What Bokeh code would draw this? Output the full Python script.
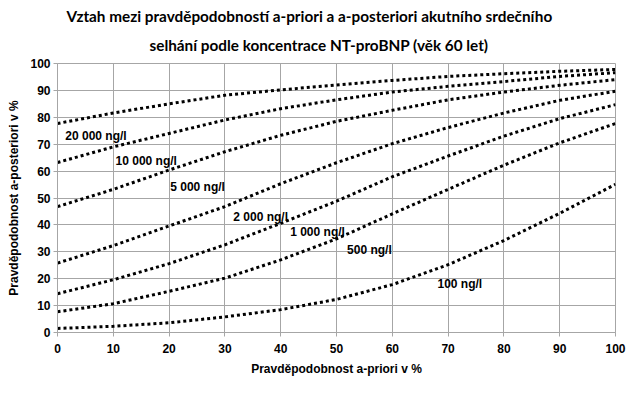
from bokeh.plotting import figure
from bokeh.models import Label, ColumnDataSource, Title
from bokeh.embed import file_html
from bokeh.resources import INLINE

x_prior = [0, 10, 20, 30, 40, 50, 60, 70, 80, 90, 100]
post_20000 = [77.7, 81.6, 85.0, 88.2, 90.2, 92.0, 93.7, 95.2, 96.2, 97.1, 97.8]
post_10000 = [63.2, 69.0, 74.0, 79.0, 83.2, 86.5, 89.4, 91.5, 93.3, 95.2, 96.6]
post_5000 = [46.8, 53.2, 60.4, 67.2, 73.3, 78.5, 82.6, 86.5, 89.4, 91.9, 94.0]
post_2000 = [25.8, 32.3, 39.6, 46.8, 55.3, 63.1, 70.2, 76.2, 81.6, 86.3, 89.7]
post_1000 = [14.4, 19.6, 25.6, 32.6, 40.6, 48.8, 57.9, 65.6, 73.0, 79.5, 84.7]
post_500 = [7.7, 10.7, 15.3, 20.2, 27.0, 34.8, 44.1, 53.2, 62.2, 70.5, 77.7]
post_100 = [1.5, 2.3, 3.6, 5.8, 8.5, 12.3, 17.8, 25.2, 34.2, 44.3, 55.1]

series = [post_20000, post_10000, post_5000, post_2000, post_1000, post_500, post_100]
labels = ["20 000 ng/l", "10 000 ng/l", "5 000 ng/l", "2 000 ng/l", "1 000 ng/l", "500 ng/l", "100 ng/l"]
label_x = [1.4, 10.4, 20.2, 31.5, 41.7, 51.9, 68.1]
label_y = [73.0, 63.7, 54.1, 43.0, 37.4, 30.7, 18.1]
ticks = [0, 10, 20, 30, 40, 50, 60, 70, 80, 90, 100]
title_lines = ["Vztah mezi pravděpodobností a-priori a a-posteriori akutního srdečního",
               "selhání podle koncentrace NT-proBNP (věk 60 let)"]

p = figure(width=627, height=378, output_backend="svg", toolbar_location=None,
           x_range=(0, 100), y_range=(0, 100),
           min_border_left=57, min_border_right=12, min_border_top=63, min_border_bottom=45)

p.background_fill_color = "white"
p.border_fill_color = "white"
p.outline_line_color = "#a6a6a6"
p.outline_line_width = 1

for ax in (p.xaxis, p.yaxis):
    ax.axis_line_color = "#a6a6a6"
    ax.major_tick_line_color = "#a6a6a6"
    ax.major_tick_out = 4
    ax.major_tick_in = 0
    ax.minor_tick_line_color = None
    ax.major_label_text_font = "Liberation Sans"
    ax.major_label_text_font_style = "bold"
    ax.major_label_text_font_size = "12px"
    ax.major_label_text_color = "black"
    ax.axis_label_text_font = "Liberation Sans"
    ax.axis_label_text_font_style = "bold"
    ax.axis_label_text_font_size = "12px"
    ax.axis_label_text_color = "black"

p.xaxis.ticker = ticks
p.yaxis.ticker = ticks
p.xaxis.axis_label = "Pravděpodobnost a-priori v %"
p.yaxis.axis_label = "Pravděpodobnost a-posteriori v %"
p.xaxis.major_label_standoff = 7
p.yaxis.major_label_standoff = 3
p.xaxis.axis_label_standoff = 6
p.yaxis.axis_label_standoff = 6

p.xgrid.ticker = ticks
p.ygrid.ticker = ticks
p.xgrid.grid_line_color = "#a6a6a6"
p.ygrid.grid_line_color = "#a6a6a6"

for ys in series:
    src = ColumnDataSource(dict(x=x_prior, y=ys))
    p.line("x", "y", source=src, line_color="black", line_width=3, line_dash="3 3")

for t, lx, ly in zip(labels, label_x, label_y):
    p.add_layout(Label(x=lx, y=ly, text=t, text_font="Liberation Sans", text_font_style="bold",
                       text_font_size="12px", text_color="black", text_baseline="middle",
                       text_align="left"))

# second line first (nearest to the plot), then first line above it
p.add_layout(Title(text=title_lines[1], align="left", offset=92, standoff=19,
                   text_font="Lato", text_font_style="bold", text_font_size="15.3px",
                   text_color="black"), "above")
p.add_layout(Title(text=title_lines[0], align="left", offset=9, standoff=0,
                   text_font="Lato", text_font_style="bold", text_font_size="15.3px",
                   text_color="black"), "above")

open("out.html", "w").write(file_html(p, INLINE))
